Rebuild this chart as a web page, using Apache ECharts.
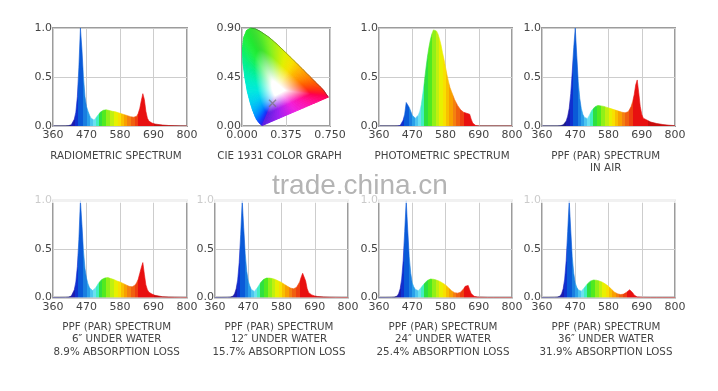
<!DOCTYPE html>
<html><head><meta charset="utf-8">
<script src="https://cdn.jsdelivr.net/npm/echarts@6/dist/echarts.min.js"></script>
<style>html,body{margin:0;padding:0;background:#fff}#c{width:718px;height:391px}</style>
</head><body><div id="c"></div>
<script>
// ---------- DATA ----------
const WAVELENGTHS = [360,380,400,
  410,415,420,425,430,435,440,445,
  450,455,460,465,470,475,480,485,490,495,
  500,505,510,515,520,525,530,535,540,545,
  550,555,560,565,570,575,580,585,590,595,
  600,605,610,615,620,625,630,635,640,645,
  650,655,660,665,670,675,680,685,690,695,
  700,720,740,760,780,800];

const RADIOMETRIC = [0,0,0.001,
  0.003,0.006,0.012,0.03,0.07,0.14,0.3,0.6,
  1.0,0.78,0.5,0.3,0.2,0.15,0.11,0.08,0.065,0.06,
  0.075,0.1,0.12,0.14,0.15,0.16,0.165,0.165,0.16,0.158,
  0.155,0.15,0.148,0.145,0.14,0.135,0.13,0.125,0.12,0.115,
  0.11,0.105,0.1,0.095,0.092,0.09,0.092,0.1,0.13,0.18,
  0.26,0.33,0.27,0.15,0.08,0.05,0.04,0.03,0.025,0.02,
  0.018,0.01,0.005,0.003,0.001,0];

const PHOTOMETRIC = [0,0,0,
  0,0,0.001,0.002,0.005,0.02,0.06,0.12,
  0.24,0.24,0.19,0.15,0.11,0.09,0.08,0.09,0.11,0.15,
  0.22,0.33,0.45,0.58,0.7,0.8,0.88,0.94,0.98,1.0,
  0.97,0.94,0.89,0.83,0.75,0.68,0.6,0.52,0.45,0.39,
  0.35,0.31,0.27,0.24,0.21,0.19,0.165,0.15,0.14,0.13,
  0.13,0.13,0.12,0.07,0.03,0.01,0.005,0.002,0.001,0,
  0,0,0,0,0,0];

const PPF_AIR = [0,0,0,
  0,0,0.002,0.005,0.012,0.025,0.05,0.1,
  0.18,0.33,0.55,0.8,1.0,0.72,0.45,0.28,0.18,0.12,
  0.09,0.07,0.075,0.1,0.13,0.16,0.18,0.195,0.205,0.21,
  0.21,0.205,0.2,0.2,0.195,0.19,0.185,0.18,0.175,0.17,
  0.165,0.16,0.155,0.15,0.145,0.14,0.138,0.135,0.135,0.145,
  0.17,0.2,0.25,0.32,0.42,0.47,0.34,0.2,0.12,0.08,
  0.065,0.04,0.025,0.015,0.008,0.004];

const PPF_6IN = [0,0,0.001,
  0.003,0.008,0.015,0.035,0.08,0.16,0.32,0.6,
  1.0,0.75,0.48,0.3,0.2,0.14,0.1,0.08,0.072,0.08,
  0.1,0.125,0.15,0.17,0.185,0.195,0.2,0.205,0.205,0.2,
  0.195,0.19,0.185,0.18,0.17,0.165,0.16,0.15,0.145,0.135,
  0.13,0.12,0.115,0.11,0.11,0.115,0.13,0.155,0.19,0.25,
  0.31,0.36,0.24,0.13,0.08,0.055,0.045,0.035,0.028,0.022,
  0.018,0.008,0.004,0.002,0.001,0];

const PPF_12IN = [0,0,0.001,
  0.003,0.008,0.015,0.04,0.09,0.18,0.36,0.65,
  1.0,0.72,0.45,0.27,0.17,0.12,0.085,0.065,0.062,0.075,
  0.1,0.125,0.15,0.17,0.185,0.195,0.2,0.2,0.2,0.198,
  0.195,0.19,0.185,0.178,0.17,0.163,0.155,0.145,0.135,0.125,
  0.115,0.105,0.097,0.092,0.09,0.095,0.105,0.125,0.16,0.21,
  0.25,0.26,0.17,0.09,0.05,0.035,0.027,0.02,0.016,0.013,
  0.01,0.005,0.002,0.001,0,0];

const PPF_24IN = [0,0,0.001,
  0.003,0.008,0.015,0.04,0.09,0.19,0.38,0.68,
  1.0,0.7,0.42,0.25,0.15,0.11,0.085,0.07,0.07,0.085,
  0.105,0.125,0.145,0.16,0.175,0.185,0.19,0.19,0.188,0.185,
  0.18,0.175,0.168,0.16,0.15,0.14,0.13,0.115,0.1,0.085,
  0.07,0.058,0.05,0.046,0.045,0.047,0.055,0.07,0.09,0.115,
  0.135,0.125,0.08,0.04,0.02,0.012,0.008,0.005,0.004,0.003,
  0.002,0,0,0,0,0];

const PPF_36IN = [0,0,0.001,
  0.003,0.008,0.015,0.04,0.09,0.19,0.38,0.68,
  1.0,0.7,0.42,0.25,0.15,0.105,0.08,0.065,0.065,0.08,
  0.1,0.12,0.14,0.155,0.168,0.177,0.18,0.18,0.178,0.175,
  0.17,0.165,0.157,0.148,0.138,0.127,0.115,0.1,0.085,0.07,
  0.055,0.045,0.038,0.033,0.03,0.03,0.035,0.042,0.055,0.07,
  0.08,0.075,0.05,0.025,0.01,0.006,0.004,0.003,0.002,0.001,
  0.001,0,0,0,0,0];

const SPECTRUM_TICKS = [360, 470, 580, 690, 800];
const INTENSITY_TICKS = [0, 0.5, 1.0];

// CIE 1931 chart
const CIE_X = [0.174,0.164,0.144,0.124,0.110,0.091,0.069,0.045,0.024,0.008,0.004,0.014,0.039,0.074,0.114,0.155,0.230,0.302,0.373,0.444,0.513,0.575,0.627,0.692,0.719,0.735,0.595,0.455,0.314];
const CIE_Y = [0.005,0.012,0.032,0.062,0.094,0.143,0.217,0.319,0.446,0.581,0.707,0.810,0.877,0.900,0.892,0.870,0.815,0.748,0.674,0.599,0.526,0.458,0.402,0.333,0.290,0.265,0.200,0.135,0.070];
const CIE_WHITE = [0.30, 0.33];
const CIE_LIGHT_POINT = [0.26, 0.21];
const CIE_X_TICKS = [0, 0.375, 0.75];
const CIE_Y_TICKS = [0, 0.45, 0.9];

const TITLES = [
  'RADIOMETRIC SPECTRUM',
  'CIE 1931 COLOR GRAPH',
  'PHOTOMETRIC SPECTRUM',
  'PPF (PAR) SPECTRUM\nIN AIR',
  'PPF (PAR) SPECTRUM\n6\u2033 UNDER WATER\n8.9% ABSORPTION LOSS',
  'PPF (PAR) SPECTRUM\n12\u2033 UNDER WATER\n15.7% ABSORPTION LOSS',
  'PPF (PAR) SPECTRUM\n24\u2033 UNDER WATER\n25.4% ABSORPTION LOSS',
  'PPF (PAR) SPECTRUM\n36\u2033 UNDER WATER\n31.9% ABSORPTION LOSS'
];
const WATERMARK = 'trade.china.cn';

// ---------- STYLE ----------
const BAND_EDGES = [420,432,442,458,470,480,490,500,510,522,535,548,560,572,582,592,604,616,628,640,690];
const BAND_COLORS = ['#1a1a8a','#1c1cb0','#1030d0','#0a5ad8','#1a7ee0','#2aa0ea','#4cc4f0','#6ae0f0','#40eec0','#2ee040','#50ea20','#90f018','#c0f010','#e8f000','#f8e000','#f8c000','#f8a000','#f48010','#f06010','#ee4010','#e81010','#c80c0c'];
const CIE_COLORS = ['#5a1ee0','#2a20f0','#1040ff','#0070ff','#0090ff','#00b0f8','#00d0f0','#00e8e0','#00f0c0','#00f090','#10f060','#20f040','#20e830','#30e030','#40e030','#50e828','#80f020','#b0f010','#e0f000','#f8e000','#ffb000','#ff8800','#ff6000','#ff3010','#ff1030','#ff0050','#ff10a0','#f020e0','#a020f0'];

const FONT = 'DejaVu Sans';
const TXT = '#444';

const GRIDS = [
  {left:53, top:28, width:134, height:98},
  {left:242, top:28, width:88, height:98},
  {left:379, top:28, width:133, height:98},
  {left:542, top:28, width:133, height:98},
  {left:53, top:200.5, width:134, height:97},
  {left:215, top:200.5, width:133, height:97},
  {left:379, top:200.5, width:133, height:97},
  {left:542, top:200.5, width:133, height:97}
];
const TITLE_POS = [
  [116,150,12],[279.5,150,12],[442,150,12],[605.7,150,12],
  [116.7,321,12.5],[279,321,12.5],[443,321,12.5],[606,321,12.5]
];

function pieces(shift) {
  const p = [{lt: BAND_EDGES[0] + shift, color: BAND_COLORS[0]}];
  for (let i = 0; i < BAND_EDGES.length - 1; i++) {
    p.push({gte: BAND_EDGES[i] + shift, lt: BAND_EDGES[i+1] + shift, color: BAND_COLORS[i+1]});
  }
  p.push({gte: BAND_EDGES[BAND_EDGES.length-1] + shift, color: BAND_COLORS[BAND_COLORS.length-1]});
  return p;
}

const labelStyle = {fontFamily: FONT, fontSize: 11, color: TXT};
const splitStyle = {show: true, lineStyle: {color: '#cdcdcd', width: 1}};

const grid = GRIDS.map(g => Object.assign({show: true, borderColor: '#9c9c9c', borderWidth: 2, backgroundColor: '#fff', containLabel: false}, g));
const xAxis = [], yAxis = [], series = [], visualMap = [];

const SPECTRA = [[0, RADIOMETRIC, 0], [2, PHOTOMETRIC, 0], [3, PPF_AIR, 20], [4, PPF_6IN, 0], [5, PPF_12IN, 0], [6, PPF_24IN, 0], [7, PPF_36IN, 0]];

for (let gi = 0; gi < 8; gi++) {
  if (gi === 1) {
    xAxis.push({gridIndex: gi, type: 'value', min: CIE_X_TICKS[0], max: CIE_X_TICKS[2], interval: CIE_X_TICKS[1] - CIE_X_TICKS[0],
      axisLine: {show: false}, axisTick: {show: false}, splitLine: splitStyle,
      axisLabel: Object.assign({margin: 4, showMinLabel: true, showMaxLabel: true, formatter: v => v.toFixed(3)}, labelStyle)});
    yAxis.push({gridIndex: gi, type: 'value', min: CIE_Y_TICKS[0], max: CIE_Y_TICKS[2], interval: CIE_Y_TICKS[1] - CIE_Y_TICKS[0],
      axisLine: {show: false}, axisTick: {show: false}, splitLine: splitStyle,
      axisLabel: Object.assign({margin: 1, showMinLabel: true, showMaxLabel: true, formatter: v => v.toFixed(2)}, labelStyle)});
  } else {
    xAxis.push({gridIndex: gi, type: 'value', min: SPECTRUM_TICKS[0], max: SPECTRUM_TICKS[4], interval: SPECTRUM_TICKS[1] - SPECTRUM_TICKS[0],
      axisLine: {show: false}, axisTick: {show: false}, splitLine: splitStyle,
      axisLabel: Object.assign({margin: 4, showMinLabel: true, showMaxLabel: true}, labelStyle)});
    yAxis.push({gridIndex: gi, type: 'value', min: INTENSITY_TICKS[0], max: INTENSITY_TICKS[2], interval: INTENSITY_TICKS[1] - INTENSITY_TICKS[0],
      axisLine: {show: false}, axisTick: {show: false}, splitLine: splitStyle,
      axisLabel: Object.assign({margin: 1, showMinLabel: true, showMaxLabel: true, formatter: v => v.toFixed(1)}, labelStyle)});
  }
}

SPECTRA.forEach(([gi, arr, shift]) => {
  const idx = series.length;
  series.push({type: 'line', xAxisIndex: gi, yAxisIndex: gi, silent: true, animation: false,
    data: WAVELENGTHS.map((w, i) => [w, arr[i]]), symbol: 'none',
    lineStyle: {width: 0.6}, areaStyle: {opacity: 1}, z: 3});
  visualMap.push({type: 'piecewise', show: false, seriesIndex: idx, dimension: 0, pieces: pieces(shift)});
});

// CIE fan: each locus segment is split into sub-triangles with blended colours
const N = CIE_X.length;
const SUB = 6;
series.push({
  type: 'custom', xAxisIndex: 1, yAxisIndex: 1, silent: true, animation: false, z: 3,
  data: CIE_X.map((x, i) => [x, CIE_Y[i]]),
  renderItem: function (params, api) {
    const i = params.dataIndex, j = (i + 1) % N;
    const p0 = api.coord([CIE_X[i], CIE_Y[i]]);
    const p1 = api.coord([CIE_X[j], CIE_Y[j]]);
    const w = api.coord(CIE_WHITE);
    const children = [];
    for (let s = 0; s < SUB; s++) {
      const t0 = s / SUB, t1 = (s + 1) / SUB, tm = (s + 0.5) / SUB;
      const a = [p0[0] + (p1[0] - p0[0]) * t0, p0[1] + (p1[1] - p0[1]) * t0];
      const b = [p0[0] + (p1[0] - p0[0]) * t1, p0[1] + (p1[1] - p0[1]) * t1];
      const m = [(a[0] + b[0]) / 2, (a[1] + b[1]) / 2];
      const c = echarts.color.lerp(tm, [CIE_COLORS[i], CIE_COLORS[j]]);
      const grad = new echarts.graphic.LinearGradient(w[0], w[1], m[0], m[1], [
        {offset: 0, color: '#ffffff'}, {offset: 0.15, color: '#ffffff'}, {offset: 0.65, color: c}, {offset: 1, color: c}], true);
      children.push({type: 'polygon', shape: {points: [w, a, b]}, style: {fill: grad, stroke: grad, lineWidth: 1}});
    }
    return {type: 'group', children};
  }
});
// thin outline on upper-right edge
series.push({type: 'line', xAxisIndex: 1, yAxisIndex: 1, silent: true, animation: false, z: 4, symbol: 'none',
  data: CIE_X.slice(13, 26).map((x, k) => [x, CIE_Y[13 + k]]),
  lineStyle: {color: 'rgba(60,60,60,0.6)', width: 0.7}});
series.push({type: 'scatter', xAxisIndex: 1, yAxisIndex: 1, silent: true, animation: false, z: 5,
  data: [CIE_LIGHT_POINT], symbol: 'path://M0,0L10,10M10,0L0,10', symbolSize: 7,
  itemStyle: {color: 'rgba(0,0,0,0)', borderColor: 'rgba(110,110,110,0.8)', borderWidth: 1.4}});

const graphic = TITLES.map((t, k) => ({
  type: 'text', x: TITLE_POS[k][0], y: TITLE_POS[k][1], z: 10, silent: true,
  style: {text: t, fill: TXT, font: '10.3px "' + FONT + '"', align: 'center', verticalAlign: 'top', lineHeight: TITLE_POS[k][2]}
}));
// faded band left by the watermark over the top of the lower row
graphic.push({type: 'rect', x: 0, y: 184, z: 15, silent: true, shape: {width: 718, height: 19},
  style: {fill: 'rgba(255,255,255,0.72)'}});
graphic.push({type: 'text', x: 272, y: 172, z: 20, silent: true,
  style: {text: WATERMARK, fill: '#b4b4b4', font: '28px "Liberation Sans"', verticalAlign: 'top'}});

const chart = echarts.init(document.getElementById('c'), null, {renderer: 'canvas'});
chart.setOption({animation: false, grid, xAxis, yAxis, series, visualMap, graphic});
</script></body></html>
